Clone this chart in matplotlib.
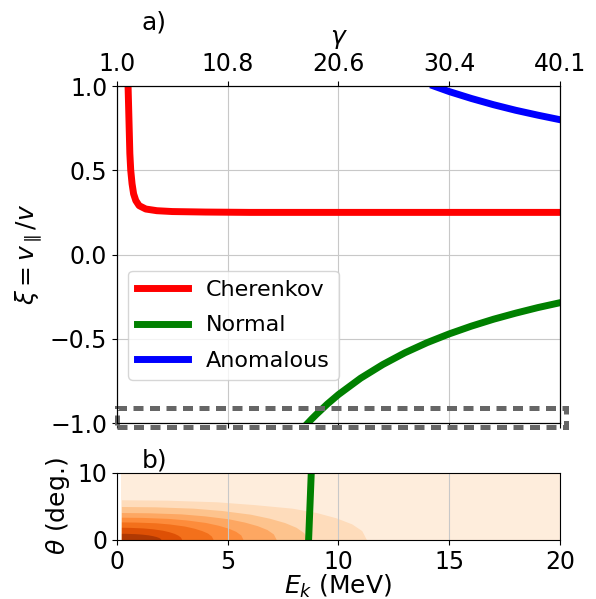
import matplotlib
matplotlib.use("Agg")
import matplotlib.pyplot as plt
from matplotlib.patches import Rectangle

# ---- data ----
ek_ticks = [0, 5, 10, 15, 20]
gamma_labels = ["1.0", "10.8", "20.6", "30.4", "40.1"]

cher_E = [0.49, 0.50, 0.52, 0.55, 0.58, 0.62, 0.68, 0.75, 0.85, 1.0, 1.3, 1.8, 2.5, 4.0, 6.0, 20.0]
cher_xi = [1.10, 1.0, 0.90, 0.75, 0.60, 0.50, 0.42, 0.36, 0.32, 0.29, 0.27, 0.26, 0.255, 0.252, 0.25, 0.25]

norm_E = [8.62, 8.8, 9.0, 9.5, 10, 11, 12, 13, 14, 15, 16, 17, 18, 19, 20]
norm_xi = [-1.0, -0.975, -0.949, -0.887, -0.831, -0.734, -0.653, -0.583, -0.523, -0.471,
           -0.425, -0.384, -0.348, -0.315, -0.286]

anom_E = [14.3, 15, 16, 17, 18, 19, 20]
anom_xi = [1.0, 0.967, 0.926, 0.889, 0.856, 0.827, 0.80]

# panel b: band boundaries theta(E), outermost first
band_E = [
    [0.2, 2.25, 4.5, 6.2, 7.9, 9.0, 9.9, 10.6, 11.05, 11.27],
    [0.2, 1.72, 3.44, 4.73, 6.02, 6.88, 7.57, 8.08, 8.43, 8.6],
    [0.2, 1.44, 2.88, 3.96, 5.04, 5.76, 6.34, 6.77, 7.06, 7.2],
    [0.2, 1.14, 2.28, 3.14, 3.99, 4.56, 5.02, 5.36, 5.59, 5.7],
    [0.2, 0.87, 1.74, 2.39, 3.05, 3.48, 3.83, 4.09, 4.26, 4.35],
    [0.2, 0.59, 1.17, 1.61, 2.05, 2.34, 2.58, 2.75, 2.87, 2.93],
    [0.2, 0.40, 0.80, 1.10, 1.40, 1.60, 1.76, 1.88, 1.96, 2.0],
]
band_theta = [
    [6.0, 5.94, 5.7, 5.28, 4.75, 4.1, 3.3, 2.4, 1.4, 0.0],
    [5.0, 4.95, 4.75, 4.4, 3.85, 3.25, 2.6, 1.9, 1.1, 0.0],
    [4.1, 4.06, 3.9, 3.6, 3.16, 2.67, 2.13, 1.56, 0.9, 0.0],
    [3.4, 3.37, 3.23, 2.99, 2.62, 2.21, 1.77, 1.29, 0.75, 0.0],
    [2.7, 2.67, 2.57, 2.38, 2.08, 1.76, 1.40, 1.03, 0.59, 0.0],
    [1.9, 1.88, 1.8, 1.67, 1.46, 1.24, 0.99, 0.72, 0.42, 0.0],
    [1.0, 0.99, 0.95, 0.88, 0.77, 0.65, 0.52, 0.38, 0.22, 0.0],
]
band_shade = [0.07, 0.18, 0.3, 0.4, 0.5, 0.6, 0.72, 0.85]

line_E_b = [8.65, 8.69, 8.73, 8.77]
line_theta_b = [0, 3.3, 6.6, 10]

fig = plt.figure(figsize=(5.96, 5.99), dpi=100)
ax1 = fig.add_axes([0.1963, 0.2938, 0.7433, 0.5626])
ax2 = fig.add_axes([0.1963, 0.0985, 0.7433, 0.1119])

# top panel
ax1.plot(cher_E, cher_xi, color="red", lw=5, label="Cherenkov")
ax1.plot(norm_E, norm_xi, color="green", lw=5, label="Normal")
ax1.plot(anom_E, anom_xi, color="blue", lw=5, label="Anomalous")
ax1.set_xlim(0, 20)
ax1.set_ylim(-1, 1)
ax1.set_xticks(ek_ticks)
ax1.set_xticklabels([])
ax1.set_yticks([-1, -0.5, 0, 0.5, 1])
ax1.tick_params(labelsize=17)
ax1.grid(True, color="#c8c8c8")
ax1.set_ylabel(r"$\xi = v_\parallel/v$", fontsize=18)
ax1.legend(loc="lower left", bbox_to_anchor=(0.025, 0.128), borderaxespad=0,
           fontsize=16, handlelength=2.3, labelspacing=0.7)

rect = Rectangle((0, -1.025), 20.25, 0.115, fill=False, ls=(0, (2.0, 1.3)),
                 lw=3.6, ec="#666666", clip_on=False, zorder=5)
ax1.add_patch(rect)

top = ax1.twiny()
top.set_xlim(0, 20)
top.set_xticks(ek_ticks)
top.set_xticklabels(gamma_labels)
top.tick_params(labelsize=17)
top.set_xlabel(r"$\gamma$", fontsize=18, labelpad=6)

# bottom panel
cmap = plt.get_cmap("Oranges")
ax2.fill_between([0.2, 20], 0, 10, color=cmap(band_shade[0]), lw=0)
for i in range(len(band_E)):
    ax2.fill_between(band_E[i], 0, band_theta[i], color=cmap(band_shade[i + 1]), lw=0)
ax2.plot(line_E_b, line_theta_b, color="green", lw=5)
ax2.set_xlim(0, 20)
ax2.set_ylim(0, 10)
ax2.set_xticks(ek_ticks)
ax2.set_yticks([0, 10])
ax2.tick_params(labelsize=17)
ax2.grid(True, axis="x", color="#c8c8c8")
ax2.set_xlabel(r"$E_k$ (MeV)", fontsize=18, labelpad=-1)
ax2.set_ylabel(r"$\theta$ (deg.)", fontsize=18)

fig.text(0.237, 0.95, "a)", fontsize=18)
fig.text(0.238, 0.22, "b)", fontsize=18)

fig.savefig("out.png", dpi=100)
